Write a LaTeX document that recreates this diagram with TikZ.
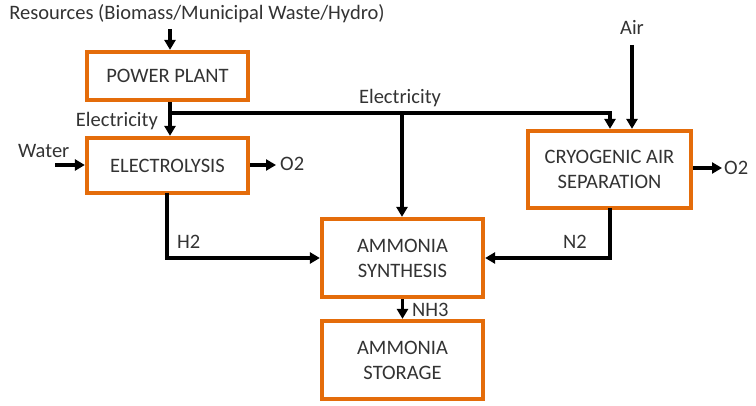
\documentclass[tikz,border=0pt]{standalone}
\usepackage{fontspec}
\setmainfont{Carlito}
\usetikzlibrary{arrows.meta}
\definecolor{boxorange}{HTML}{E46C0A}
\definecolor{txt}{HTML}{333333}
\begin{document}
\begin{tikzpicture}[x=1pt,y=-1pt,
  pbox/.style={draw=boxorange,line width=4.2pt,fill=white,text=txt,align=center,font=\fontsize{20.5}{25}\selectfont,inner sep=0pt},
  flow/.style={line width=3.4pt,-{Triangle[length=10pt,width=11pt]}},
  lbl/.style={text=txt,font=\fontsize{20.5}{25}\selectfont,inner sep=0pt}]
\useasboundingbox (0,0) rectangle (756,406);
% boxes
\node[pbox,minimum width=161pt,minimum height=48pt] (pp) at (167.5,76) {POWER PLANT};
\node[pbox,minimum width=161pt,minimum height=55pt] (el) at (167.5,165.5) {ELECTROLYSIS};
\node[pbox,minimum width=163pt,minimum height=77pt] (cas) at (609.5,169.5) {CRYOGENIC AIR\\SEPARATION};
\node[pbox,minimum width=161pt,minimum height=78pt] (syn) at (402.5,258) {AMMONIA\\SYNTHESIS};
\node[pbox,minimum width=161pt,minimum height=78pt] (sto) at (402.5,360) {AMMONIA\\STORAGE};
% labels
\node[lbl] (res) at (197,14) {Resources (Biomass/Municipal Waste/Hydro)};
\node[lbl,anchor=east] (elec1) at (158,121) {Electricity};
\node[lbl] (elec2) at (400,98) {Electricity};
\node[lbl,anchor=west] (water) at (18,151) {Water};
\node[lbl,anchor=west] (o2a) at (280,164) {O2};
\node[lbl] (air) at (632,27) {Air};
\node[lbl,anchor=west] (o2b) at (724,168) {O2};
\node[lbl,anchor=west] (h2) at (177,242) {H2};
\node[lbl,anchor=east] (n2) at (587,242) {N2};
\node[lbl,anchor=west] (nh3) at (412,310) {NH3};
% coordinates
\coordinate (rtop) at (170,29);
\coordinate (j) at (170,113);
\coordinate (jm) at (402,113);
\coordinate (jr) at (610,113);
\coordinate (wst) at (55,165);
\coordinate (airtop) at (632,45);
\coordinate (o2aend) at (276,165);
\coordinate (o2bend) at (722,168);
% connectors
\draw[flow] (rtop) -- (rtop |- pp.north);
\draw[line width=3.4pt] (pp.south -| j) -- (j);
\draw[flow] (j) -- (j |- el.north);
\draw[flow] (j) -- (jr) -- (jr |- cas.north);
\draw[flow] (jm) -- (jm |- syn.north);
\draw[flow] (airtop) -- (airtop |- cas.north);
\draw[flow] (wst) -- (wst -| el.west);
\draw[flow] (el.east |- o2aend) -- (o2aend);
\draw[flow] (cas.east |- o2bend) -- (o2bend);
\draw[flow] (167,193) -- (167,258) -- (syn.west);
\draw[flow] (610,208) -- (610,258) -- (syn.east);
\draw[flow] (syn.south) -- (sto.north);
\end{tikzpicture}
\end{document}
